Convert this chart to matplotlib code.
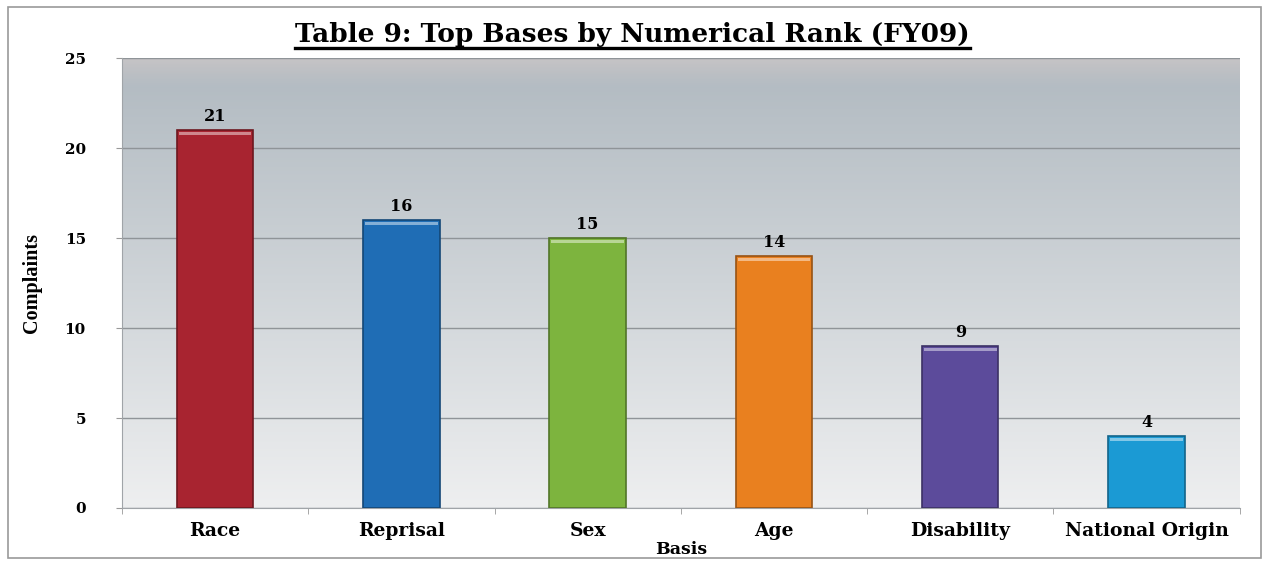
import numpy as np
import matplotlib.pyplot as plt
from matplotlib.colors import to_rgb
from matplotlib.lines import Line2D
from matplotlib.patches import Rectangle

categories = ["Race", "Reprisal", "Sex", "Age", "Disability", "National Origin"]
complaints = [21, 16, 15, 14, 9, 4]
bar_colors = ["#a82430", "#1f6db5", "#7db43e", "#e9801f", "#5c4b9b", "#1b9ad4"]
yticks = [0, 5, 10, 15, 20, 25]

SERIF = ["Liberation Serif", "DejaVu Serif"]
WIDE = ["DejaVu Serif"]


def darken(c, f=0.65):
    r, g, b = to_rgb(c)
    return (r * f, g * f, b * f)


def lighten(c, f=0.45):
    r, g, b = to_rgb(c)
    return (r + (1 - r) * f, g + (1 - g) * f, b + (1 - b) * f)


fig = plt.figure(figsize=(12.65, 5.61), dpi=100)
ax = fig.add_axes([0.0964, 0.0945, 0.8836, 0.802])

# grey-blue gradient behind the bars, darker near the top, with a soft pale band at the very top
grad = np.linspace(0, 1, 256)[:, None]
top = np.array([176, 185, 192]) / 255
bot = np.array([238, 239, 240]) / 255
img = top[None, None, :] * (1 - grad[..., None]) + bot[None, None, :] * grad[..., None]
band = np.array([198, 196, 198]) / 255
w = np.clip(1 - np.arange(256) / 16, 0, 1)[:, None, None]
img = img * (1 - w) + band[None, None, :] * w
ax.imshow(img, extent=[0, 1, 0, 1], transform=ax.transAxes, aspect="auto", zorder=0)

x = np.arange(len(categories))
bars = ax.bar(x, complaints, width=0.41, color=bar_colors, zorder=3,
              edgecolor=[darken(c) for c in bar_colors], linewidth=1.2)

# light rim along each bar top
for b, c in zip(bars, bar_colors):
    ax.add_patch(Rectangle((b.get_x() + 0.01, b.get_height() - 0.3), b.get_width() - 0.02, 0.2,
                           color=lighten(c), zorder=4, lw=0))

for xi, v in zip(x, complaints):
    ax.text(xi, v + 0.3, str(v), ha="center", va="bottom", fontsize=11.5,
            fontweight="bold", family=WIDE, zorder=5)

ax.set_xlim(-0.5, len(categories) - 0.5)
ax.set_ylim(0, 25)
ax.set_yticks(yticks)
ax.set_yticklabels([str(t) for t in yticks], family=WIDE, fontsize=11, fontweight="bold")
ax.set_xticks(x)
ax.set_xticklabels(categories, family=WIDE, fontsize=13.5, fontweight="bold")
ax.tick_params(axis="x", length=0, pad=10)
ax.tick_params(axis="y", length=4, color="#999999", pad=22)
ax.set_xticks(np.arange(-0.5, len(categories), 1), minor=True)
ax.tick_params(axis="x", which="minor", length=4, color="#999999")

ax.grid(axis="y", color="#8f9498", linewidth=1.0, zorder=1)
ax.set_axisbelow(True)
for s in ["top", "right"]:
    ax.spines[s].set_visible(False)
for s in ["left", "bottom"]:
    ax.spines[s].set_color("#a0a4a8")

ax.set_xlabel("Basis", family=WIDE, fontsize=12.5, fontweight="bold", labelpad=1)
ax.set_ylabel("Complaints", family=SERIF, fontsize=14.5, fontweight="bold", labelpad=16)

title = fig.text(0.5, 0.925, "Table 9: Top Bases by Numerical Rank (FY09)", ha="center",
                 va="baseline", family=WIDE, fontsize=19, fontweight="bold")

# underline the title
fig.canvas.draw()
bb = title.get_window_extent().transformed(fig.transFigure.inverted())
fig.add_artist(Line2D([bb.x0, bb.x1], [0.914, 0.914], color="black", lw=2.4,
                      transform=fig.transFigure))

# thin frame around the whole figure
fig.add_artist(Rectangle((0.006, 0.006), 0.991, 0.982, transform=fig.transFigure,
                         fill=False, edgecolor="#9a9a9a", lw=1.2))

fig.savefig("out.png", dpi=100)
